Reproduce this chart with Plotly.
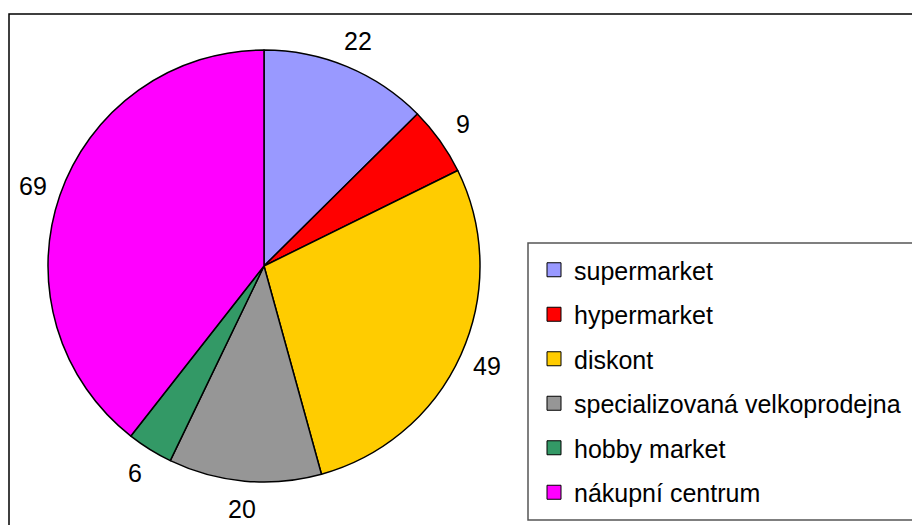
import math
import plotly.graph_objects as go

labels = ["supermarket", "hypermarket", "diskont", "specializovaná velkoprodejna",
          "hobby market", "nákupní centrum"]
values = [22, 9, 49, 20, 6, 69]
colors = ["#9999FF", "#FF0000", "#FFCC00", "#969696", "#339966", "#FF00FF"]

W, H = 912, 525
FONT = "Liberation Sans, Arial, sans-serif"

def px(x):
    return x / W

def py(y):
    return 1 - y / H

# pie geometry (pixels)
CX, CY, R = 264, 266, 216
LABEL_R = 244

fig = go.Figure()
fig.add_trace(go.Pie(
    labels=labels, values=values, sort=False, direction="clockwise", rotation=0,
    marker=dict(colors=colors, line=dict(color="black", width=1.5)),
    textinfo="none",
    showlegend=False, hoverinfo="label+value",
    domain=dict(x=[px(CX - R), px(CX + R)], y=[py(CY + R), py(CY - R)]),
))

# value labels placed outside each slice at its mid angle
total = sum(values)
annotations = []
cum = 0
for v in values:
    mid = (cum + v / 2) / total * 2 * math.pi
    cum += v
    x = CX + LABEL_R * math.sin(mid)
    y = CY - LABEL_R * math.cos(mid)
    annotations.append(dict(x=px(x), y=py(y), xref="paper", yref="paper",
                            text=str(v), showarrow=False, xanchor="center", yanchor="middle",
                            font=dict(family=FONT, size=25, color="black")))

# legend entries
for lab, col in zip(labels, colors):
    fig.add_trace(go.Scatter(
        x=[None], y=[None], mode="markers", name=lab, legendgroup=lab,
        marker=dict(symbol="square", size=14, color=col, line=dict(color="black", width=1)),
    ))

fig.update_layout(
    width=W, height=H, margin=dict(l=0, r=0, t=0, b=0),
    paper_bgcolor="white", plot_bgcolor="white",
    font=dict(family=FONT, size=25, color="black"),
    xaxis=dict(visible=False), yaxis=dict(visible=False),
    annotations=annotations,
    legend=dict(x=px(534), y=py(247), xanchor="left", yanchor="top",
                traceorder="grouped", tracegroupgap=9,
                bgcolor="rgba(0,0,0,0)", borderwidth=0,
                font=dict(family=FONT, size=25, color="black")),
    shapes=[
        dict(type="rect", xref="paper", yref="paper", x0=px(9), x1=px(930),
             y0=py(540), y1=py(14), line=dict(color="black", width=1.5)),
        dict(type="rect", xref="paper", yref="paper", x0=px(528), x1=px(930),
             y0=py(520), y1=py(243), line=dict(color="#555555", width=1.5)),
    ],
)

fig.write_html("out.html", config={"displayModeBar": False},
               post_script="document.body.style.margin='0px';")
